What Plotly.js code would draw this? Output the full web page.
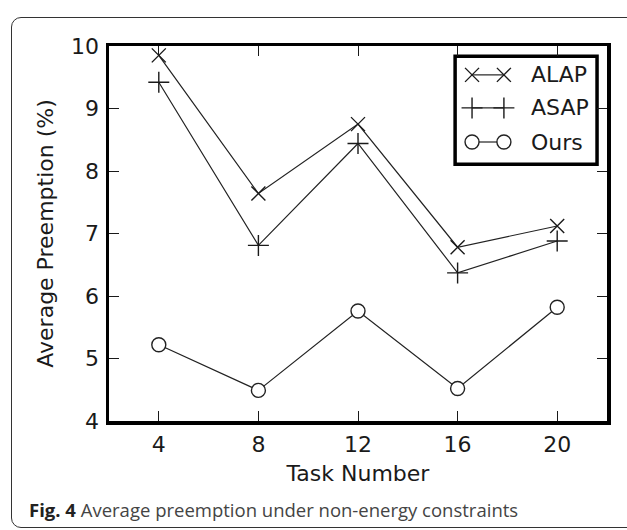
<!DOCTYPE html>
<html>
<head>
<meta charset="utf-8">
<script src="https://cdn.plot.ly/plotly-3.0.1.min.js"></script>
<style>
  html, body { margin: 0; padding: 0; background: #fff; overflow: hidden; }
  #wrap { position: relative; width: 627px; height: 530px; }
  #frame {
    position: absolute; left: 11px; top: 17px; width: 660px; height: 511px;
    border: 1.5px solid #333; border-radius: 10px; box-sizing: border-box;
  }
  #chart { position: absolute; left: 0; top: 0; width: 627px; height: 530px; }
</style>
</head>
<body>
<div id="wrap">
  <div id="frame"></div>
  <div id="chart"></div>
</div>
<script>
// Task counts on the x axis
const taskNumbers = [4, 8, 12, 16, 20];
// Average preemption (%) per scheduling policy
const alap = [9.85, 7.64, 8.75, 6.78, 7.12];
const asap = [9.42, 6.81, 8.44, 6.37, 6.88];
const ours = [5.22, 4.49, 5.76, 4.52, 5.82];
const seriesNames = ['ALAP', 'ASAP', 'Ours'];
const xTickLabels = ['4', '8', '12', '16', '20'];
const yTickValues = [4, 5, 6, 7, 8, 9, 10];

const ink = '#1a1a1a';
const font = 'DejaVu Sans';

const lineStyle = { color: '#222', width: 1.2 };
const styles = [
  { symbol: 'x-thin-open', size: 14, color: ink, line: { color: ink, width: 1.4 } },
  { symbol: 'cross-thin-open', size: 15, color: ink, line: { color: ink, width: 1.4 } },
  { symbol: 'circle', size: 14, color: '#fff', line: { color: '#222', width: 1.4 } }
];

const values = [alap, asap, ours];
const traces = values.map((v, i) => ({
  x: taskNumbers, y: v, name: seriesNames[i], type: 'scatter', mode: 'lines+markers',
  line: lineStyle, marker: styles[i], cliponaxis: false, showlegend: false
}));

// Hand-built legend: two symbols joined by a short line, as in the figure
const legRows = [0.923, 0.835, 0.744];
const legX = [0.729, 0.793];
seriesNames.forEach((n, i) => {
  traces.push({
    x: legX, y: [legRows[i], legRows[i]], xaxis: 'x2', yaxis: 'y2',
    type: 'scatter', mode: 'lines+markers', line: lineStyle, marker: styles[i],
    cliponaxis: false, showlegend: false, hoverinfo: 'skip'
  });
});

const axisCommon = {
  showline: true, linewidth: 3.5, linecolor: '#000', mirror: 'ticks',
  ticks: 'inside', ticklen: 10, tickwidth: 1, tickcolor: ink,
  showgrid: false, zeroline: false,
  tickfont: { family: font, size: 22, color: ink }
};

const layout = {
  width: 627, height: 530,
  margin: { l: 109, r: 20, t: 46, b: 109 },
  paper_bgcolor: 'rgba(0,0,0,0)', plot_bgcolor: '#fff',
  showlegend: false,
  font: { family: font },
  xaxis: Object.assign({}, axisCommon, {
    range: [2, 22], tickvals: taskNumbers, ticktext: xTickLabels, ticklabelstandoff: 1,
    title: { text: 'Task Number', font: { family: font, size: 22, color: ink }, standoff: 10 }
  }),
  yaxis: Object.assign({}, axisCommon, {
    range: [4, 10], tickvals: yTickValues, ticklabelstandoff: 2,
    title: { text: 'Average Preemption (%)', font: { family: font, size: 22, color: ink }, standoff: 12 }
  }),
  xaxis2: { overlaying: 'x', range: [0, 1], visible: false, fixedrange: true },
  yaxis2: { overlaying: 'y', range: [0, 1], visible: false, fixedrange: true },
  shapes: [
    { type: 'rect', xref: 'paper', yref: 'paper', x0: 0.695, x1: 0.980, y0: 0.685, y1: 0.973,
      line: { color: '#000', width: 3.5 }, fillcolor: '#fff', layer: 'below' }
  ],
  annotations: seriesNames.map((n, i) => ({
    text: n, xref: 'paper', yref: 'paper', x: 0.843, y: legRows[i],
    xanchor: 'left', yanchor: 'middle', showarrow: false,
    font: { family: font, size: 22, color: ink }
  })).concat([{
    text: '<b style="color:#222">Fig. 4</b> Average preemption under non-energy constraints',
    xref: 'paper', yref: 'paper', x: -0.1647, y: -0.237, xanchor: 'left', yanchor: 'middle',
    showarrow: false, font: { family: 'Open Sans', size: 18.5, color: '#444' }
  }])
};

Plotly.newPlot('chart', traces, layout, { displayModeBar: false, staticPlot: true });
</script>
</body>
</html>
